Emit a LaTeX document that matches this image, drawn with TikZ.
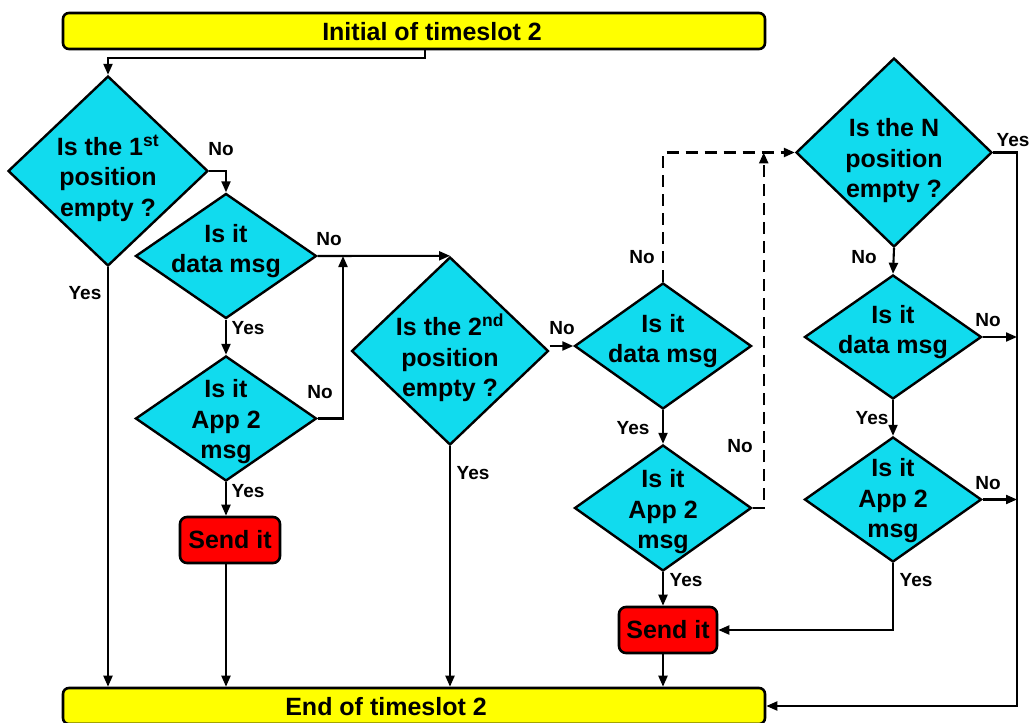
\documentclass[tikz,border=0pt]{standalone}
\usepackage{fontspec}
\setmainfont{Liberation Sans}
\usetikzlibrary{arrows.meta,shapes.geometric,calc}
\definecolor{qcyan}{RGB}{17,219,238}
\definecolor{qyellow}{RGB}{255,255,0}
\definecolor{qred}{RGB}{255,0,0}
\begin{document}
\begin{tikzpicture}[x=1pt,y=-1pt,
  dia/.style={diamond, draw, line width=2.4pt, fill=qcyan, inner sep=0pt},
  txt/.style={font=\fontsize{25}{30.5}\selectfont\bfseries, align=center, inner sep=0pt},
  lbl/.style={font=\fontsize{19}{22}\selectfont\bfseries, inner sep=0pt},
  bar/.style={draw, line width=2.6pt, fill=qyellow, rounded corners=6pt, inner sep=0pt},
  sendbox/.style={draw, line width=2.6pt, fill=qred, rounded corners=7pt, inner sep=0pt,
    minimum height=46pt, font=\fontsize{25}{30}\selectfont\bfseries},
  conn/.style={line width=2.1pt, -{Triangle[length=11pt,width=9pt]}},
  dsh/.style={line width=2.4pt, dash pattern=on 12pt off 7pt}]
\clip (0,0) rectangle (1032,722);

% start and end bars
\node[bar, minimum width=702pt, minimum height=36pt] (initbar) at (414,31) {};
\node[txt] (inittxt) at (432,32) {Initial of timeslot 2};
\node[bar, minimum width=702pt, minimum height=36pt] (endbar) at (414,706) {};
\node[txt] (endtxt) at (386,707) {End of timeslot 2};

% first position
\node[dia, minimum width=200pt, minimum height=190pt] (d1) at (108,171) {};
\node[txt] (t1) at (108,178) {Is the 1\textsuperscript{st}\\position\\empty ?};
\node[dia, minimum width=181pt, minimum height=125pt] (d2) at (226,256) {};
\node[txt] (t2) at (226,251) {Is it\\data msg};
\node[dia, minimum width=181pt, minimum height=125pt] (d2b) at (226,418.5) {};
\node[txt] (t2b) at (226,422) {Is it\\App 2\\msg};
\node[sendbox, minimum width=100pt] (send1) at (230,540) {Send it};

% second position
\node[dia, minimum width=197pt, minimum height=188pt] (d3) at (450,351) {};
\node[txt] (t3) at (450,358) {Is the 2\textsuperscript{nd}\\position\\empty ?};
\node[dia, minimum width=177pt, minimum height=126pt] (d4) at (663,346) {};
\node[txt] (t4) at (663,341) {Is it\\data msg};
\node[dia, minimum width=177pt, minimum height=126pt] (d4b) at (663,508) {};
\node[txt] (t4b) at (663,512) {Is it\\App 2\\msg};
\node[sendbox, minimum width=98pt] (send2) at (668,630) {Send it};

% N-th position
\node[dia, minimum width=196pt, minimum height=189pt] (d5) at (894,152.5) {};
\node[txt] (t5) at (894,161) {Is the N\\position\\empty ?};
\node[dia, minimum width=177pt, minimum height=124pt] (d6) at (893,337) {};
\node[txt] (t6) at (893,332) {Is it\\data msg};
\node[dia, minimum width=177pt, minimum height=125pt] (d6b) at (893,499.5) {};
\node[txt] (t6b) at (893,501) {Is it\\App 2\\msg};

% junction points
\coordinate (initout) at (425,49);
\coordinate (j1) at (343,256);
\coordinate (rail) at (1017,0);

% connectors
\draw[conn] (initout) -- ++(0,9) -| (d1.north);
\draw[conn] (d1.east) -| (d2.north);
\draw[conn] (d1.south) -- (d1.south |- endbar.north);
\draw[conn] (d2.east) -- (d3.north);
\draw[conn] (d2.south) -- (d2b.north);
\draw[conn] (d2b.east) -| (j1);
\draw[conn] (d2b.south) -- (d2b.south |- send1.north);
\draw[conn] (send1.south -| d2b.south) -- (d2b.south |- endbar.north);
\draw[conn] (d3.south) -- (d3.south |- endbar.north);
\draw[conn] (d3.east |- d4.west) -- (d4.west);
\draw[conn,dsh] (d4.north) |- (d5.west);
\draw[conn] (d4.south) -- (d4b.north);
\draw[conn,dsh] (d4b.east) -- ++(11,0) coordinate (k) -- (k |- d5.west);
\draw[conn] (d4b.south) -- (d4b.south |- send2.north);
\draw[conn] (send2.south -| d4b.south) -- (d4b.south |- endbar.north);
\draw[conn] (d5.east) -- (d5.east -| rail) |- (endbar.east);
\draw[conn] (d5.south) -- (d6.north);
\draw[conn] (d6.east) -- (d6.east -| rail);
\draw[conn] (d6.south) -- (d6b.north);
\draw[conn] (d6b.east) -- (d6b.east -| rail);
\draw[conn] (d6b.south) |- (send2.east);

% branch labels
\node[lbl] (l1) at (221,149) {No};
\node[lbl] (l2) at (85,293) {Yes};
\node[lbl] (l3) at (329,239) {No};
\node[lbl] (l4) at (248,328) {Yes};
\node[lbl] (l5) at (320,392) {No};
\node[lbl] (l6) at (248,491) {Yes};
\node[lbl] (l7) at (473,473) {Yes};
\node[lbl] (l8) at (562,328) {No};
\node[lbl] (l9) at (642,257) {No};
\node[lbl] (l10) at (633,428) {Yes};
\node[lbl] (l11) at (740,446) {No};
\node[lbl] (l12) at (686,580) {Yes};
\node[lbl] (l13) at (1013,140) {Yes};
\node[lbl] (l14) at (864,257) {No};
\node[lbl] (l15) at (988,320) {No};
\node[lbl] (l16) at (872,418) {Yes};
\node[lbl] (l17) at (988,483) {No};
\node[lbl] (l18) at (916,580) {Yes};
\end{tikzpicture}
\end{document}
